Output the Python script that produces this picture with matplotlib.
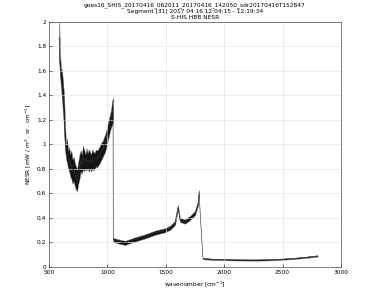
import numpy as np
import matplotlib
matplotlib.use("Agg")
import matplotlib.pyplot as plt

# band 1 (longwave) envelope
wn1 = [586, 594, 603, 611, 620, 628, 637, 645, 654, 663, 672, 680, 690, 700, 710,
       720, 730, 740, 750, 760, 770, 780, 790, 800, 810, 820, 830, 840, 850, 860,
       870, 880, 890, 900, 910, 920, 930, 940, 950, 960, 970, 980, 990, 1000, 1010,
       1020, 1030, 1040, 1048]
hi1 = [2.05, 1.72, 1.62, 1.60, 1.50, 1.40, 1.15, 1.00, 1.05, 0.95, 0.98, 0.92, 0.95, 0.88, 0.90,
       0.85, 0.82, 0.80, 0.86, 0.92, 0.95, 0.92, 0.99, 0.96, 0.92, 0.97, 0.93, 0.96, 0.94, 0.92,
       0.96, 0.94, 0.93, 0.96, 0.95, 0.96, 0.98, 1.00, 1.02, 1.03, 1.06, 1.08, 1.12, 1.16, 1.20,
       1.24, 1.28, 1.36, 1.38]
lo1 = [1.70, 1.55, 1.45, 1.35, 1.25, 1.10, 0.95, 0.88, 0.85, 0.80, 0.78, 0.74, 0.72, 0.68, 0.70,
       0.66, 0.63, 0.62, 0.68, 0.72, 0.78, 0.76, 0.80, 0.78, 0.80, 0.79, 0.80, 0.78, 0.80, 0.78,
       0.80, 0.79, 0.80, 0.82, 0.81, 0.83, 0.84, 0.86, 0.88, 0.90, 0.92, 0.94, 0.98, 1.02, 1.06,
       1.10, 1.14, 1.16, 1.20]

# band 2 (midwave)
wn2 = [1050, 1108, 1151, 1236, 1322, 1408, 1493, 1536, 1579, 1604, 1621, 1664, 1707, 1750, 1776, 1784]
mid2 = [0.22, 0.205, 0.197, 0.225, 0.25, 0.28, 0.30, 0.32, 0.36, 0.49, 0.385, 0.37, 0.40, 0.44, 0.52, 0.61]

# band 3 (shortwave)
wn3 = [1818, 1900, 2000, 2100, 2200, 2300, 2400, 2500, 2600, 2700, 2800]
mid3 = [0.068, 0.063, 0.060, 0.058, 0.057, 0.057, 0.059, 0.064, 0.070, 0.079, 0.090]

titles = ["goes16_SHIS_20170416_062011_20170416_142050_sdr20170416T152847",
          "Segment [31] 2017 04 16 12:04:15 - 12:19:34",
          "S-HIS HBB NESR"]

fig = plt.figure(figsize=(3.75, 3.01), dpi=100)
ax = fig.add_axes([0.131, 0.113, 0.778, 0.814])

fs = 4.2
ax.fill_between(wn1, lo1, hi1, color="0.08", lw=0.3, edgecolor="0.45")
c1 = (np.array(hi1) + np.array(lo1)) / 2
m2 = np.array(mid2)
m3 = np.array(mid3)
ax.fill_between(wn2, m2 - 0.017, m2 + 0.017, color="0.08", lw=0.3, edgecolor="0.45")
ax.fill_between(wn3, m3 - 0.005, m3 + 0.005, color="0.08", lw=0.3, edgecolor="0.45")
# connecting line across the whole spectrum
ax.plot(wn1 + wn2 + wn3, list(c1) + list(m2) + list(m3), color="0.2", lw=0.45)

ax.set_xlim(500, 3000)
ax.set_ylim(0, 2)
ax.set_xticks([500, 1000, 1500, 2000, 2500, 3000])
ax.set_yticks(np.arange(0, 2.01, 0.2))
ax.set_yticklabels(["0", "0.2", "0.4", "0.6", "0.8", "1", "1.2", "1.4", "1.6", "1.8", "2"])
ax.tick_params(direction="in", length=2, width=0.4, labelsize=fs, pad=2)
ax.grid(True, color="0.9", lw=0.5)
for s in ax.spines.values():
    s.set_linewidth(0.5)
    s.set_color("0.3")

ax.set_xlabel("wavenumber [cm$^{-1}$]", fontsize=fs, labelpad=3)
ax.set_ylabel("NESR [mW / m$^2$ . sr . cm$^{-1}$]", fontsize=fs, labelpad=3)
ax.set_title("\n".join(titles), fontsize=fs, linespacing=1.3, pad=2)

fig.savefig("out.png", dpi=100, facecolor="white")
